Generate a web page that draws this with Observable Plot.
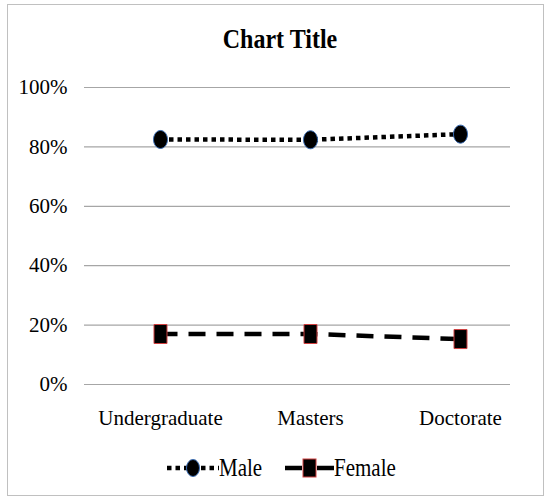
<!DOCTYPE html>
<html>
<head>
<meta charset="utf-8">
<script src="https://cdn.jsdelivr.net/npm/d3@7"></script>
<script src="https://cdn.jsdelivr.net/npm/@observablehq/plot@0.6"></script>
<style>
  html, body { margin: 0; padding: 0; background: #fff; }
  body { width: 548px; height: 502px; position: relative; overflow: hidden; font-family: "Liberation Serif", "Times New Roman", serif; }
  #frame { position: absolute; left: 7px; top: 4px; width: 537px; height: 492px; border: 1.5px solid #c0c0c0; box-sizing: border-box; }
  #title { position: absolute; left: 0; width: 560px; top: 27px; text-align: center; font-weight: bold; font-size: 24px; line-height: 24px; color: #000; transform: scaleY(1.15); }
  #chart { position: absolute; left: 0; top: 0; }
  #legend { position: absolute; left: 0; top: 455px; width: 548px; height: 26px; }
  .item { position: absolute; top: 0; display: flex; align-items: center; font-size: 21px; line-height: 26px; color: #000; }
  .item span { display: inline-block; transform: scaleY(1.15); }
  .item svg { display: block; }
</style>
</head>
<body>
<div id="frame"></div>
<div id="title">Chart Title</div>
<div id="chart"></div>
<div id="legend">
  <div class="item" style="left:167px"><svg id="swMale" width="52" height="26"></svg><span>Male</span></div>
  <div class="item" style="left:285px"><svg id="swFemale" width="49" height="26"></svg><span>Female</span></div>
</div>
<script>
const categories = ["Undergraduate", "Masters", "Doctorate"];
const male = [0.825, 0.824, 0.843];
const female = [0.17, 0.17, 0.153];
const yTicks = [0, 0.2, 0.4, 0.6, 0.8, 1.0];

const maleRows = categories.map((c, i) => ({category: c, value: male[i]}));
const femaleRows = categories.map((c, i) => ({category: c, value: female[i]}));

// custom marker symbols
const ellipseSymbol = {
  draw(ctx) {
    const rx = 7, ry = 9, k = 0.5523;
    ctx.moveTo(rx, 0);
    ctx.bezierCurveTo(rx, ry * k, rx * k, ry, 0, ry);
    ctx.bezierCurveTo(-rx * k, ry, -rx, ry * k, -rx, 0);
    ctx.bezierCurveTo(-rx, -ry * k, -rx * k, -ry, 0, -ry);
    ctx.bezierCurveTo(rx * k, -ry, rx, -ry * k, rx, 0);
    ctx.closePath();
  }
};
const rectSymbol = {
  draw(ctx) {
    const w = 6.5, h = 9.5;
    ctx.moveTo(-w, -h);
    ctx.lineTo(w, -h);
    ctx.lineTo(w, h);
    ctx.lineTo(-w, h);
    ctx.closePath();
  }
};

const chart = Plot.plot({
  width: 548,
  height: 440,
  marginLeft: 84,
  marginRight: 38,
  marginTop: 87,
  marginBottom: 56,
  style: {fontFamily: "'Liberation Serif', 'Times New Roman', serif", fontSize: "21px", color: "#000", background: "transparent"},
  x: {type: "point", domain: categories, range: [160, 460], padding: 0, label: null},
  y: {domain: [0, 1], label: null},
  marks: [
    Plot.ruleY(yTicks, {stroke: "#a6a6a6", strokeWidth: 1.2}),
    Plot.axisY(yTicks, {tickSize: 0, tickPadding: 17, tickFormat: d3.format(".0%"), label: null, fill: "#000"}),
    Plot.axisX({tickSize: 0, tickPadding: 26, label: null, fill: "#000"}),
    Plot.line(maleRows, {x: "category", y: "value", stroke: "#000", strokeWidth: 4.5, strokeDasharray: "4.5,4", strokeLinecap: "butt"}),
    Plot.line(femaleRows, {x: "category", y: "value", stroke: "#000", strokeWidth: 4.5, strokeDasharray: "17,11", strokeLinecap: "butt"}),
    Plot.dot(maleRows, {x: "category", y: "value", symbol: ellipseSymbol, fill: "#000", stroke: "#3a6db5", strokeWidth: 1}),
    Plot.dot(femaleRows, {x: "category", y: "value", symbol: rectSymbol, fill: "#000", stroke: "#d04040", strokeWidth: 1})
  ]
});
document.getElementById("chart").append(chart);

// legend swatches
function swatch(id, dash, sym) {
  const svg = d3.select("#" + id);
  const w = +svg.attr("width");
  svg.append("line").attr("x1", 0).attr("x2", w).attr("y1", 13).attr("y2", 13)
    .attr("stroke", "#000").attr("stroke-width", 4.5).attr("stroke-dasharray", dash);
  if (sym === "ellipse") {
    svg.append("ellipse").attr("cx", w / 2).attr("cy", 13).attr("rx", 6.5).attr("ry", 8.5)
      .attr("fill", "#000").attr("stroke", "#3a6db5").attr("stroke-width", 1);
  } else {
    svg.append("rect").attr("x", w / 2 - 6.5).attr("y", 4).attr("width", 13).attr("height", 18)
      .attr("fill", "#000").attr("stroke", "#d04040").attr("stroke-width", 1);
  }
}
swatch("swMale", "4.5,4", "ellipse");
swatch("swFemale", "17,15", "rect");
</script>
</body>
</html>
